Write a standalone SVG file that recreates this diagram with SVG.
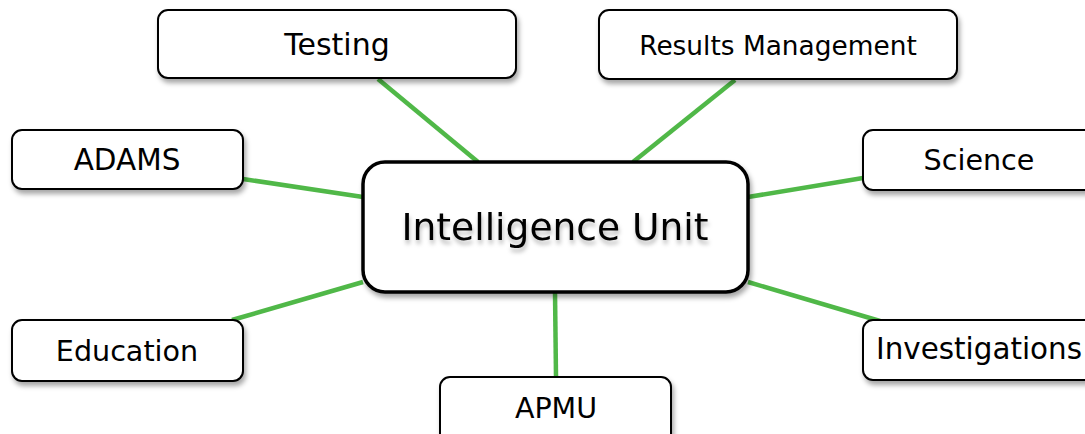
<svg xmlns="http://www.w3.org/2000/svg" width="1085" height="434" viewBox="0 0 1085 434">
  <style>
    .box { fill: #ffffff; stroke: #000000; stroke-width: 2; }
    .hub { fill: #ffffff; stroke: #000000; stroke-width: 3.5; }
    .lbl { font-family: "DejaVu Sans", Verdana, sans-serif; fill: #000000; text-anchor: middle; dominant-baseline: central; }
    .link { stroke: #50b848; stroke-width: 4.5; stroke-linecap: butt; fill: none; }
  </style>
  <defs>
    <filter id="shadow" x="-10%" y="-10%" width="130%" height="140%">
      <feDropShadow dx="2" dy="4" stdDeviation="2.5" flood-color="#000" flood-opacity="0.35"/>
    </filter>
    <filter id="textShadow" x="-5%" y="-20%" width="110%" height="160%">
      <feDropShadow dx="1" dy="4" stdDeviation="2" flood-color="#000" flood-opacity="0.28"/>
    </filter>
  </defs>
  <rect width="1085" height="434" fill="#ffffff"/>

  <g id="connectors">
    <line class="link" x1="378" y1="79" x2="478" y2="162"/>
    <line class="link" x1="735" y1="80" x2="633" y2="162"/>
    <line class="link" x1="243" y1="179" x2="363" y2="197"/>
    <line class="link" x1="863" y1="178" x2="748" y2="197"/>
    <line class="link" x1="232" y1="320" x2="363" y2="282"/>
    <line class="link" x1="880" y1="321" x2="748" y2="282"/>
    <line class="link" x1="555" y1="292" x2="556" y2="377"/>
  </g>

  <g id="intelligence-unit">
    <rect class="hub" x="363" y="162" width="385" height="130" rx="22" filter="url(#shadow)"/>
    <text class="lbl" x="555" y="227" font-size="37.6" filter="url(#textShadow)">Intelligence Unit</text>
  </g>

  <g id="testing">
    <rect class="box" x="158" y="10" width="358" height="68" rx="10" filter="url(#shadow)"/>
    <text class="lbl" x="337" y="44" font-size="30">Testing</text>
  </g>

  <g id="results-management">
    <rect class="box" x="599" y="10" width="358" height="69" rx="10" filter="url(#shadow)"/>
    <text class="lbl" x="778" y="45" font-size="26.4">Results Management</text>
  </g>

  <g id="adams">
    <rect class="box" x="12" y="130" width="231" height="59" rx="10" filter="url(#shadow)"/>
    <text class="lbl" x="127" y="160" font-size="29.5">ADAMS</text>
  </g>

  <g id="science">
    <rect class="box" x="863" y="130" width="240" height="60" rx="10" filter="url(#shadow)"/>
    <text class="lbl" x="979" y="160" font-size="28.6">Science</text>
  </g>

  <g id="education">
    <rect class="box" x="12" y="320" width="231" height="61" rx="10" filter="url(#shadow)"/>
    <text class="lbl" x="127" y="351" font-size="28.6">Education</text>
  </g>

  <g id="investigations">
    <rect class="box" x="863" y="320" width="240" height="60" rx="10" filter="url(#shadow)"/>
    <text class="lbl" x="979" y="349" font-size="29.4">Investigations</text>
  </g>

  <g id="apmu">
    <rect class="box" x="440" y="377" width="231" height="70" rx="10" filter="url(#shadow)"/>
    <text class="lbl" x="556" y="408" font-size="28.5">APMU</text>
  </g>
</svg>
